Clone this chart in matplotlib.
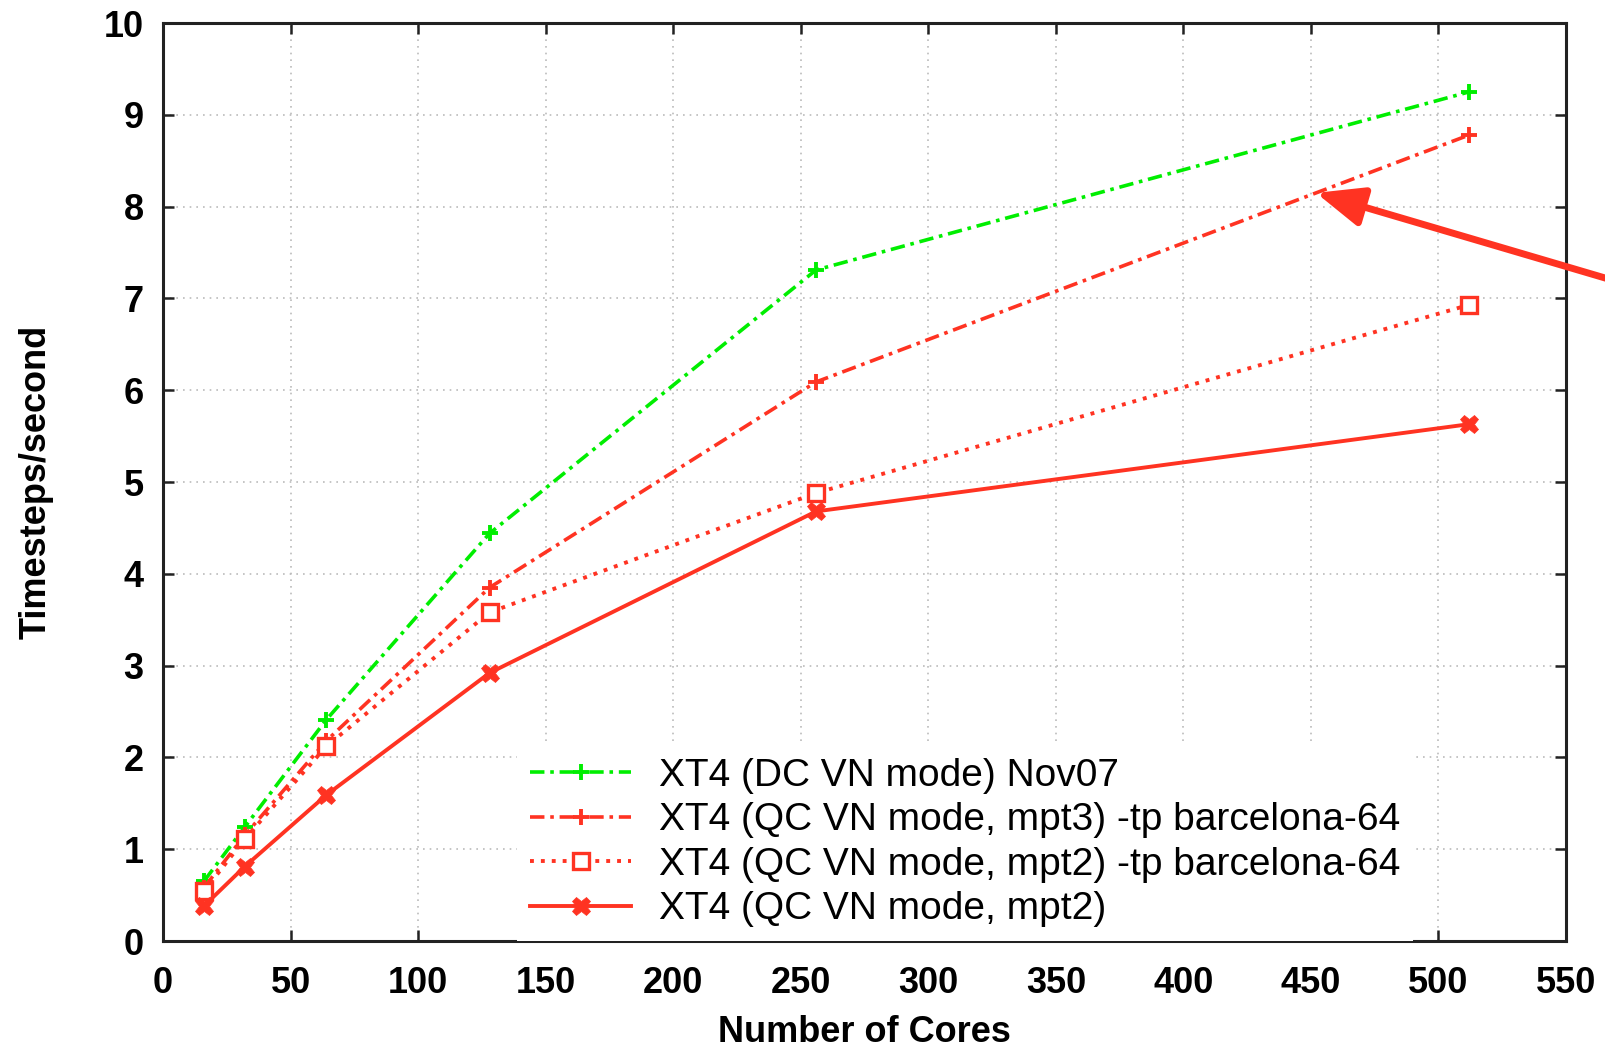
import matplotlib
matplotlib.use("Agg")
import matplotlib.pyplot as plt

# Timesteps per second vs. number of cores
cores = [16, 32, 64, 128, 256, 512]
dc_nov07 = [0.65, 1.24, 2.41, 4.44, 7.31, 9.25]
qc_mpt3_tp = [0.58, 1.15, 2.18, 3.85, 6.09, 8.78]
qc_mpt2_tp = [0.54, 1.11, 2.12, 3.58, 4.88, 6.93]
qc_mpt2 = [0.38, 0.81, 1.59, 2.92, 4.68, 5.63]

labels = [
    "XT4 (DC VN mode) Nov07",
    "XT4 (QC VN mode, mpt3) -tp barcelona-64",
    "XT4 (QC VN mode, mpt2) -tp barcelona-64",
    "XT4 (QC VN mode, mpt2)",
]

xticks = list(range(0, 551, 50))
yticks = list(range(0, 11))

green = "#00ee00"
red = "#ff3322"

plt.rcParams["font.family"] = ["Liberation Sans", "DejaVu Sans"]

fig = plt.figure(figsize=(16.06, 10.52), dpi=100)
ax = fig.add_axes([0.1015, 0.1055, 0.8736, 0.8726])

dashdot = (0, (4, 1.6, 1, 1.6))
ax.plot(cores, dc_nov07, color=green, lw=2.6, ls=dashdot,
        marker="+", ms=12, mew=2.8, label=labels[0])
ax.plot(cores, qc_mpt3_tp, color=red, lw=2.6, ls=dashdot,
        marker="+", ms=12, mew=2.8, label=labels[1])
ax.plot(cores, qc_mpt2_tp, color=red, lw=2.8, ls=(0, (1, 1.8)),
        marker="s", ms=11, mew=2.4, mfc="white", label=labels[2])
ax.plot(cores, qc_mpt2, color=red, lw=2.8, ls="-",
        marker="X", ms=13, mew=0.5, label=labels[3])

ax.set_xlim(0, 550)
ax.set_ylim(0, 10)
ax.set_xticks(xticks)
ax.set_yticks(yticks)
ax.grid(True, color="#bbbbbb", ls=(0, (1, 3)), lw=1.2)
ax.set_axisbelow(True)

ax.tick_params(direction="in", length=8, width=1.8, top=True, right=True,
               labelsize=26, pad=14, color="#222222")
ax.tick_params(axis="x", pad=18)
for lbl in ax.get_xticklabels() + ax.get_yticklabels():
    lbl.set_fontweight("bold")
for sp in ax.spines.values():
    sp.set_linewidth(2.2)
    sp.set_color("#222222")

ax.set_xlabel("Number of Cores", fontsize=26, fontweight="bold", labelpad=10)
ax.set_ylabel("Timesteps/second", fontsize=26, fontweight="bold", labelpad=36)

leg = ax.legend(loc="lower left", bbox_to_anchor=(0.252, 0.0), borderaxespad=0,
                fontsize=28, numpoints=1, handlelength=2.6, handletextpad=0.7,
                labelspacing=0.22, borderpad=0.35, frameon=True, fancybox=False,
                framealpha=1, facecolor="white", edgecolor="none")

# arrow pointing at the mpt3 curve
ax.annotate("", xy=(452, 8.15), xycoords="data",
            xytext=(1.03, 0.722), textcoords="figure fraction",
            annotation_clip=False,
            arrowprops=dict(arrowstyle="-|>,head_length=0.72,head_width=0.3",
                            color=red, lw=5, mutation_scale=40,
                            shrinkA=0, shrinkB=0))

fig.savefig("out.png", dpi=100)
